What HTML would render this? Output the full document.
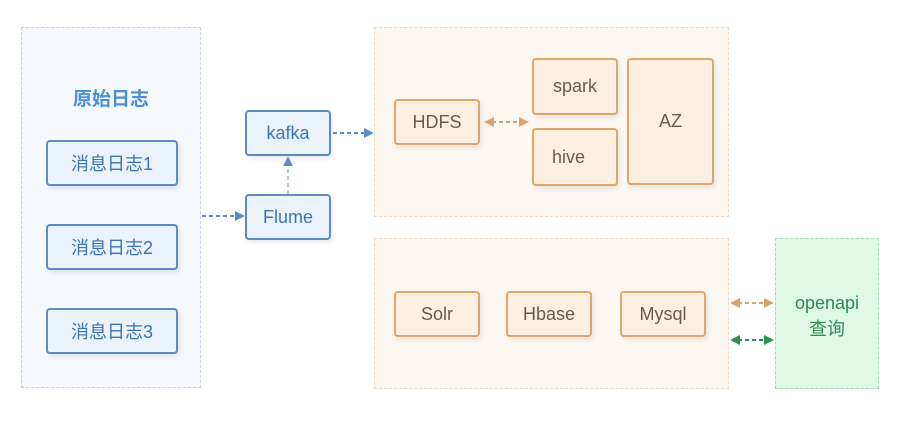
<!DOCTYPE html>
<html><head><meta charset="utf-8"><style>
body{margin:0;width:900px;height:427px;background:#fff;position:relative;overflow:hidden;font-family:"Liberation Sans","Noto Sans CJK SC",sans-serif}
.a{position:absolute;box-sizing:border-box}
.panel{border:1px dashed #c9d3dc}
.b{border:2px solid #5b8dc4;background:#eaf3fb;border-radius:4px;color:#3d74b3;font-size:18px;display:flex;align-items:center;justify-content:center;box-shadow:2px 3px 5px rgba(0,0,0,.08)}
.o{border:2px solid #e0a56a;background:#fdf0e3;border-radius:4px;color:#6b5a48;font-size:18px;display:flex;align-items:center;justify-content:center;box-shadow:2px 3px 5px rgba(0,0,0,.08)}
</style></head><body>
<div class="a panel" style="left:21px;top:27px;width:180px;height:361px;background:#f5f9fd;border-color:#c4d4e6"></div>
<div class="a" style="left:21px;top:84px;width:180px;text-align:center;color:#4a8fd4;font-weight:bold;font-size:19px">原始日志</div>
<div class="a b" style="left:46px;top:140px;width:132px;height:46px">消息日志1</div>
<div class="a b" style="left:46px;top:224px;width:132px;height:46px">消息日志2</div>
<div class="a b" style="left:46px;top:308px;width:132px;height:46px">消息日志3</div>
<div class="a b" style="left:245px;top:110px;width:86px;height:46px">kafka</div>
<div class="a b" style="left:245px;top:194px;width:86px;height:46px">Flume</div>
<div class="a panel" style="left:374px;top:27px;width:355px;height:190px;background:#fdf7f2;border-color:#f0d8c4"></div>
<div class="a panel" style="left:374px;top:238px;width:355px;height:151px;background:#fdf7f2;border-color:#f0d8c4"></div>
<div class="a panel" style="left:775px;top:238px;width:104px;height:151px;background:#e0f8e6;border-color:#a8d8b0"></div>
<div class="a" style="left:775px;top:290px;width:104px;text-align:center;color:#2f8a4f;font-size:18px;line-height:26px">openapi<br>查询</div>
<div class="a o" style="left:394px;top:99px;width:86px;height:46px">HDFS</div>
<div class="a o" style="left:532px;top:58px;width:86px;height:57px">spark</div>
<div class="a o" style="left:532px;top:128px;width:86px;height:58px;justify-content:flex-start;padding-left:18px">hive</div>
<div class="a o" style="left:627px;top:58px;width:87px;height:127px">AZ</div>
<div class="a o" style="left:394px;top:291px;width:86px;height:46px">Solr</div>
<div class="a o" style="left:506px;top:291px;width:86px;height:46px">Hbase</div>
<div class="a o" style="left:620px;top:291px;width:86px;height:46px">Mysql</div>
<svg class="a" style="left:0;top:0" width="900" height="427">
<g stroke-dasharray="4,3" stroke-width="2" fill="none">
<line x1="202" y1="216" x2="236" y2="216" stroke="#5b8dc4"/>
<line x1="333" y1="133" x2="365" y2="133" stroke="#5b8dc4"/>
<line x1="288" y1="194" x2="288" y2="166" stroke="#b8c8dc"/>
<line x1="492" y1="122" x2="521" y2="122" stroke="#b7a898"/>
<line x1="738" y1="303" x2="766" y2="303" stroke="#d9a56e"/>
<line x1="738" y1="340" x2="766" y2="340" stroke="#2a9150"/>
</g>
<polygon points="245,216 235,211 235,221" fill="#5b8dc4"/>
<polygon points="374,133 364,128 364,138" fill="#5b8dc4"/>
<polygon points="288,156 283,166 293,166" fill="#5b8dc4"/>
<polygon points="484,122 494,117 494,127" fill="#d9a56e"/>
<polygon points="529,122 519,117 519,127" fill="#d9a56e"/>
<polygon points="730,303 740,298 740,308" fill="#d9a56e"/>
<polygon points="774,303 764,298 764,308" fill="#d9a56e"/>
<polygon points="730,340 740,335 740,345" fill="#2a9150"/>
<polygon points="774,340 764,335 764,345" fill="#2a9150"/>
</svg>
</body></html>
